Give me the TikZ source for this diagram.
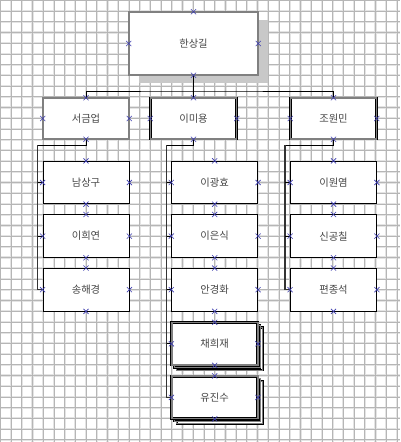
\documentclass[tikz,border=0pt]{standalone}
\usepackage{fontspec}
\newfontfamily\kr{Noto Sans CJK KR}
\usetikzlibrary{shapes.misc}
\definecolor{gridc}{RGB}{182,182,182}
\definecolor{gridh}{RGB}{228,228,228}
\definecolor{mkc}{RGB}{60,60,175}
\definecolor{txtc}{RGB}{70,70,70}
\definecolor{shad}{RGB}{200,200,200}
\tikzset{
  gridl/.style={draw=gridc,line width=0.8pt},
  gridw/.style={draw=gridh,line width=2.2pt},
  basebox/.style={rectangle,fill=white,inner sep=0pt,minimum width=86pt,minimum height=42.5pt,
     font=\kr\fontsize{10.3pt}{12pt}\selectfont,text=txtc},
  dbox/.style={basebox,draw=black,line width=0.55pt,double=gray,double distance=1.6pt},
  sbox/.style={basebox,draw=black,line width=0.8pt},
  backbox/.style={basebox,draw=black,line width=0.7pt,double=gray,double distance=0.8pt},
  shadowbox/.style={rectangle,fill=shad,draw=none,inner sep=0pt,minimum width=129pt,minimum height=63pt},
  conn/.style={draw=black,line width=0.9pt},
  spine/.style={draw=black!80,line width=1.4pt},
  mk/.style={cross out,draw=mkc,line width=0.6pt,minimum size=4.5pt,inner sep=0pt},
}
\begin{document}
\begin{tikzpicture}[x=1pt,y=-1pt]
\useasboundingbox (0,0) rectangle (400,442);
\fill[white] (0,0) rectangle (400,442);
% grid
\foreach \i in {0,...,37} \draw[gridw] (0.3+10.72*\i,0) -- (0.3+10.72*\i,442);
\foreach \j in {0,...,41} \draw[gridw] (0,0.3+10.72*\j) -- (400,0.3+10.72*\j);
\foreach \i in {0,...,37} \draw[gridl] (0.3+10.72*\i,0) -- (0.3+10.72*\i,442);
\foreach \j in {0,...,41} \draw[gridl] (0,0.3+10.72*\j) -- (400,0.3+10.72*\j);

% top box with shadow
\node[shadowbox] (topsh) at (203.5,51.5) {};
\node[dbox,minimum width=129pt,minimum height=63pt] (top) at (193.5,43.5) {한상길};

% level 2
\node[dbox,minimum height=41pt] (b1) at (86,118.5) {서금업};
\node[dbox,minimum height=41pt] (b2) at (193.5,118.5) {이미용};
\node[dbox,minimum height=41pt] (b3) at (333.5,118.5) {조원민};

% left column
\node[sbox] (n1) at (86,182.5) {남상구};
\node[sbox] (n2) at (86,236.1) {이희연};
\node[sbox] (n3) at (86,289.7) {송해경};
% middle column
\node[sbox] (m1) at (214.7,182.5) {이광효};
\node[sbox] (m2) at (214.7,236.1) {이은식};
\node[sbox] (m3) at (214.7,289.7) {안경화};
\node[backbox] (m4c) at (219.7,348.8) {};
\node[backbox] (m4b) at (217.2,346.3) {};
\node[dbox] (m4) at (214.7,343.8) {채희재};
\node[backbox] (m5c) at (219.7,402.4) {};
\node[backbox] (m5b) at (217.2,399.9) {};
\node[dbox] (m5) at (214.7,397.4) {유진수};
% right column
\node[sbox] (r1) at (333.5,182.5) {이원염};
\node[sbox] (r2) at (333.5,236.1) {신공칠};
\node[sbox] (r3) at (333.5,289.7) {편종석};

% connectors
\coordinate (bus) at (193.5,91);
\draw[conn] (top.south) -- (b2.north);
\draw[conn] (b1.north) |- (bus) -| (b3.north);

\coordinate (lj) at (37.5,145);
\coordinate (mj) at (166.5,145);
\coordinate (rj) at (285,145);
\draw[conn] (b1.south) |- (lj);
\draw[conn] (b2.south) |- (mj);
\draw[conn] (b3.south) |- (rj);
\draw[spine] (lj) |- (n3.west);
\draw[spine] (mj) |- (m5.west);
\draw[spine] (rj) |- (r3.west);
\foreach \t/\s in {n1/lj,n2/lj,m1/mj,m2/mj,m3/mj,m4/mj,r1/rj,r2/rj}
  \draw[conn] (\s |- \t.west) -- (\t.west);

% connection markers
\foreach \n in {top,b1,b2,b3,n1,n2,n3,m1,m2,m3,m4,m5,r1,r2,r3}
  \foreach \a in {north,south,east,west}
    \node[mk] (mk-\n-\a) at (\n.\a) {};
\end{tikzpicture}
\end{document}
